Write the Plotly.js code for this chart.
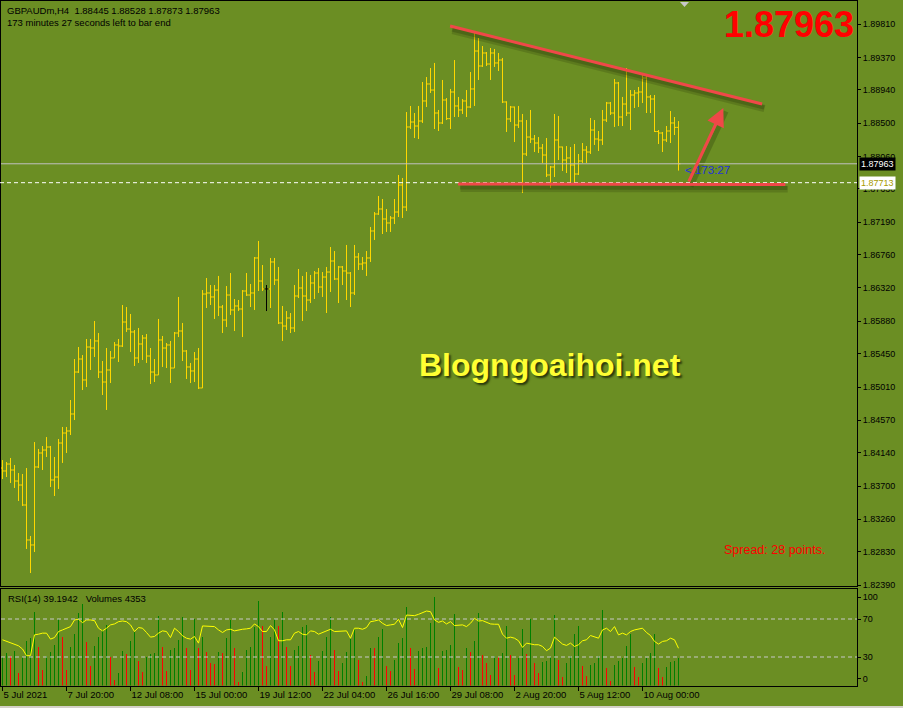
<!DOCTYPE html>
<html><head><meta charset="utf-8">
<script src="https://cdn.plot.ly/plotly-3.0.1.min.js"></script>
<style>html,body{margin:0;padding:0;background:#6B8E23;overflow:hidden}#chart{width:903px;height:708px}</style>
</head><body><div id="chart"></div>
<script>
const symbol = 'GBPAUDm';
const timeframe = 'H4';
const open = [1.83938,1.83899,1.83991,1.83912,1.83766,1.83713,1.83449,1.82986,1.82920,1.83952,
1.84137,1.84176,1.84216,1.83780,1.83819,1.84269,1.84401,1.84428,1.84653,1.85208,
1.85380,1.85103,1.85539,1.85526,1.85619,1.85208,1.85076,1.85235,1.85394,1.85566,
1.85552,1.85870,1.85777,1.85738,1.85394,1.85579,1.85658,1.85420,1.85208,1.85169,
1.85632,1.85526,1.85566,1.85261,1.85724,1.85751,1.85486,1.85275,1.85222,1.85380,
1.84997,1.86240,1.86254,1.86201,1.86293,1.86068,1.85896,1.86227,1.86029,1.86082,
1.86042,1.86280,1.86227,1.86254,1.86717,1.86412,1.86307,1.86307,1.86664,1.86426,
1.85857,1.85817,1.85923,1.85791,1.86214,1.86320,1.86214,1.86161,1.86386,1.86518,
1.86333,1.86465,1.86531,1.86677,1.86439,1.86598,1.86545,1.86518,1.86254,1.86730,
1.86637,1.86651,1.86717,1.87074,1.87299,1.87365,1.87233,1.87180,1.87246,1.87325,
1.87682,1.87391,1.88450,1.88516,1.88463,1.88529,1.88794,1.89019,1.88939,1.88635,
1.88503,1.88807,1.88560,1.88913,1.88728,1.88675,1.88794,1.88714,1.88953,1.89455,
1.89257,1.89429,1.89283,1.89429,1.89297,1.89336,1.88781,1.88556,1.88714,1.88476,
1.88529,1.88093,1.88317,1.88291,1.88238,1.88172,1.88079,1.87815,1.87921,1.88278,
1.88185,1.88013,1.88040,1.87947,1.87828,1.88000,1.88145,1.88119,1.88410,1.88291,
1.88278,1.88542,1.88767,1.88635,1.89032,1.88582,1.88754,1.88635,1.88873,1.88900,
1.88913,1.89098,1.88847,1.88820,1.88390,1.88370,1.88278,1.88397,1.88503,1.88445];
const high = [1.84044,1.84018,1.84071,1.83978,1.83872,1.83859,1.83938,1.83039,1.84282,1.84190,
1.84229,1.84348,1.84230,1.84084,1.84322,1.84481,1.84481,1.84838,1.85380,1.85539,
1.85433,1.85645,1.85645,1.85883,1.85724,1.85354,1.85526,1.85486,1.85605,1.85645,
1.86095,1.86068,1.85976,1.85764,1.85791,1.85698,1.85711,1.85526,1.85380,1.85910,
1.85685,1.85592,1.85619,1.85738,1.86201,1.85857,1.85499,1.85328,1.85473,1.85526,
1.86293,1.86452,1.86359,1.86359,1.86479,1.86095,1.86346,1.86518,1.86174,1.86161,
1.86293,1.86518,1.86373,1.86730,1.86942,1.86624,1.86359,1.86717,1.86717,1.86598,
1.86082,1.86015,1.85989,1.86359,1.86571,1.86479,1.86531,1.86492,1.86545,1.86584,
1.86531,1.86598,1.86862,1.86809,1.86611,1.86611,1.86889,1.86531,1.86889,1.86783,
1.86730,1.86809,1.87127,1.87325,1.87537,1.87497,1.87365,1.87272,1.87497,1.87815,
1.87775,1.88648,1.88728,1.88635,1.88728,1.89045,1.89111,1.89230,1.89297,1.88675,
1.89072,1.88833,1.88953,1.89336,1.88847,1.88820,1.88939,1.89177,1.89707,1.89627,
1.89521,1.89442,1.89495,1.89482,1.89429,1.89363,1.88790,1.88728,1.88720,1.88728,
1.88622,1.88542,1.88675,1.88344,1.88317,1.88225,1.88304,1.87934,1.88622,1.88595,
1.88190,1.88198,1.88185,1.88225,1.88093,1.88238,1.88198,1.88569,1.88542,1.88397,
1.88675,1.88781,1.88781,1.89085,1.89045,1.88847,1.89230,1.88939,1.88939,1.88979,
1.89151,1.89138,1.88873,1.88873,1.88410,1.88384,1.88463,1.88661,1.88582,1.88528];
const low = [1.83793,1.83819,1.83740,1.83674,1.83502,1.83436,1.82867,1.82549,1.82827,1.83938,
1.83912,1.84084,1.83687,1.83568,1.83661,1.84005,1.84137,1.84375,1.84573,1.85195,
1.84970,1.85010,1.85235,1.85407,1.85129,1.84904,1.84706,1.85063,1.85394,1.85341,
1.85539,1.85738,1.85473,1.85288,1.85328,1.85367,1.85328,1.85050,1.85076,1.85169,
1.85275,1.85261,1.85063,1.85261,1.85671,1.85354,1.85116,1.85063,1.85076,1.84984,
1.84997,1.86055,1.86095,1.85910,1.85949,1.85724,1.85804,1.85963,1.85751,1.86015,
1.85671,1.86214,1.86068,1.86029,1.86280,1.86280,1.86015,1.86055,1.86359,1.85843,
1.85619,1.85764,1.85724,1.85738,1.86187,1.85883,1.86015,1.86121,1.86174,1.86254,
1.86201,1.85989,1.86267,1.86426,1.86121,1.86359,1.86161,1.86068,1.86227,1.86558,
1.86558,1.86479,1.86664,1.86955,1.87286,1.87034,1.87061,1.87061,1.87166,1.87259,
1.87246,1.87338,1.88423,1.88304,1.88291,1.88503,1.88714,1.88900,1.88423,1.88397,
1.88490,1.88542,1.88423,1.88582,1.88582,1.88622,1.88582,1.88700,1.88728,1.89072,
1.89244,1.89257,1.89072,1.89244,1.89191,1.88767,1.88384,1.88516,1.88251,1.88437,
1.87577,1.88066,1.88238,1.88119,1.88106,1.87974,1.87788,1.87643,1.87788,1.88013,
1.87868,1.87841,1.87709,1.87709,1.87815,1.87974,1.87974,1.88093,1.88212,1.88132,
1.88212,1.88516,1.88609,1.88450,1.88463,1.88463,1.88595,1.88410,1.88701,1.88714,
1.88767,1.88635,1.88635,1.88384,1.88225,1.88119,1.88251,1.88238,1.88344,1.87873];
const close = [1.83899,1.83991,1.83912,1.83766,1.83713,1.83449,1.82986,1.82920,1.83952,1.84137,
1.84176,1.84216,1.83780,1.83819,1.84269,1.84401,1.84428,1.84653,1.85208,1.85380,
1.85103,1.85539,1.85526,1.85619,1.85208,1.85076,1.85235,1.85394,1.85566,1.85552,
1.85870,1.85777,1.85738,1.85394,1.85579,1.85658,1.85420,1.85208,1.85169,1.85632,
1.85526,1.85566,1.85261,1.85724,1.85751,1.85486,1.85275,1.85222,1.85380,1.84997,
1.86240,1.86254,1.86201,1.86293,1.86068,1.85896,1.86227,1.86029,1.86082,1.86042,
1.86280,1.86227,1.86254,1.86717,1.86412,1.86307,1.86307,1.86664,1.86426,1.85857,
1.85817,1.85923,1.85791,1.86214,1.86320,1.86214,1.86161,1.86386,1.86518,1.86333,
1.86465,1.86531,1.86677,1.86439,1.86598,1.86545,1.86518,1.86254,1.86730,1.86637,
1.86651,1.86717,1.87074,1.87299,1.87365,1.87233,1.87180,1.87246,1.87325,1.87682,
1.87391,1.88450,1.88516,1.88463,1.88529,1.88794,1.89019,1.88939,1.88635,1.88503,
1.88807,1.88560,1.88913,1.88728,1.88675,1.88794,1.88714,1.88953,1.89455,1.89257,
1.89429,1.89283,1.89429,1.89297,1.89336,1.88781,1.88556,1.88714,1.88476,1.88529,
1.88093,1.88317,1.88291,1.88238,1.88172,1.88079,1.87815,1.87921,1.88278,1.88185,
1.88013,1.88040,1.87947,1.87828,1.88000,1.88145,1.88119,1.88410,1.88291,1.88278,
1.88542,1.88767,1.88635,1.89032,1.88582,1.88754,1.88635,1.88873,1.88900,1.88913,
1.89098,1.88847,1.88820,1.88390,1.88370,1.88278,1.88397,1.88503,1.88445,1.87963];
const rsi = [48.1,46.4,44.6,42.9,41.8,38.4,31.4,31.4,53.3,54.0,
55.1,55.1,48.8,50.5,56.8,58.5,60.3,62.0,69.0,69.7,
66.2,69.0,69.0,68.3,60.3,57.5,60.3,63.8,64.8,67.2,
67.9,67.2,63.8,56.8,61.0,60.3,55.8,50.9,51.6,55.1,
57.5,56.8,50.5,60.3,56.8,52.3,49.8,48.8,51.6,44.6,
62.7,62.7,62.7,62.0,58.5,55.8,58.5,59.2,57.5,58.5,
59.2,59.6,60.3,64.8,62.0,56.8,56.8,63.1,58.5,47.1,
47.1,48.1,48.1,55.1,56.8,54.0,53.3,57.5,56.8,54.0,
55.8,56.8,59.2,56.8,56.8,57.5,57.5,49.8,60.3,60.3,
59.2,61.0,67.2,67.9,69.0,65.5,63.1,63.8,64.5,69.7,
61.0,74.2,74.2,73.5,74.9,77.0,78.4,77.7,69.0,66.5,
67.9,64.8,67.2,63.1,63.1,63.8,62.0,65.5,70.7,67.9,
68.3,66.5,64.8,64.5,64.5,54.0,49.8,50.9,49.8,47.1,
40.1,44.6,43.6,42.9,42.9,41.1,36.6,39.4,50.9,47.1,
43.6,42.2,44.6,41.1,42.9,47.1,48.1,52.6,51.6,49.8,
58.5,60.3,56.8,62.0,53.3,55.1,53.3,56.8,58.5,59.2,
60.3,55.8,52.6,46.4,43.6,46.4,47.1,49.8,48.1,39.1942];
const volume = [4454,5083,4716,5502,1991,4454,7074,7441,11528,6131,
2515,4716,5345,6393,10480,7598,2515,6026,8122,11371,
12838,6917,3144,6288,7598,8803,9537,4559,943,1991,
5502,4978,7074,8384,3930,2201,4559,4978,5135,11004,
6026,2358,5659,5869,7179,10847,5921,2515,10480,5869,
7598,5240,3511,3406,5240,5135,7441,10323,5869,629,
2201,5659,6026,9170,13362,9432,3039,7598,10480,9432,
11528,6131,3144,5659,6288,9170,9589,4873,2201,3930,
5502,7703,10847,5607,2358,3563,5345,7336,9013,4087,
629,1572,5921,5869,7598,8908,3039,2358,4087,6655,
7441,12419,5869,2620,5502,5869,6026,9799,13991,2725,
5502,5600,6445,11266,2987,2515,5974,5345,7074,11371,
4873,3616,1677,4664,4454,5188,9432,4873,1729,4297,
8908,4978,10480,3563,1991,3773,3930,4454,11109,4087,
1415,3563,4716,8122,9432,3144,1572,3301,3563,4716,
11947,2830,786,3301,3930,4297,6288,8122,2987,1415,
3563,4297,5135,8122,2830,1415,2987,3773,3930,4353];
const xTickBars = [0,16,32,48,64,80,96,112,128,144,160];
const xTickLabels = ['5 Jul 2021','7 Jul 20:00','12 Jul 08:00','15 Jul 00:00','19 Jul 12:00','22 Jul 04:00','26 Jul 16:00','29 Jul 08:00','2 Aug 20:00','5 Aug 12:00','10 Aug 00:00'];
const priceTicks = [1.89810,1.89370,1.88940,1.88500,1.88060,1.87630,1.87190,1.86760,1.86320,1.85880,1.85450,1.85010,1.84570,1.84140,1.83700,1.83260,1.82830,1.82390];
const rsiTickVals = [93,70,30,7];
const rsiTickText = ['100','70','30','0'];
const rsiLevels = [70,30];
const linePrice = 1.87713;
const spreadPoints = 28;
const timeLeft = {min:173, sec:27};
const trendLines = [
  {x0:111.9, y0:1.89786, x1:189.9, y1:1.88754},
  {x0:113.9, y0:1.87696, x1:195.7, y1:1.87689}
];
const arrowLine = {x0:171.4, y0:1.87709, x1:180.2, y1:1.88701};

const W = 903, H = 708;
const fx = p => p / W;
const fy = p => 1 - p / H;
const n = close.length - 1;
const idx = close.map((_, i) => i);
const bid = close[n];
const f5 = v => v.toFixed(5);
const FONT = 'Liberation Sans, Arial, sans-serif';
const BAR = '#FFD700';

const normal = idx.filter(i => open[i] !== close[i]);
const doji = idx.filter(i => open[i] === close[i]);
const pick = (arr, ids) => ids.map(i => arr[i]);

const volColors = volume.map((v, i) => (i > 0 && v <= volume[i - 1]) ? '#FF0000' : '#008000');

const traces = [
  {type:'ohlc', x:normal, open:pick(open,normal), high:pick(high,normal), low:pick(low,normal), close:pick(close,normal),
   increasing:{line:{color:BAR, width:1}}, decreasing:{line:{color:BAR, width:1}}, tickwidth:0.5, hoverinfo:'skip', xaxis:'x', yaxis:'y'},
  {type:'ohlc', x:doji, open:pick(open,doji), high:pick(high,doji), low:pick(low,doji), close:pick(close,doji),
   increasing:{line:{color:'#000000', width:1}}, decreasing:{line:{color:'#000000', width:1}}, tickwidth:0.5, hoverinfo:'skip', xaxis:'x', yaxis:'y'},
  {type:'bar', x:idx, y:volume, marker:{color:volColors, line:{width:0}}, width:0.4, xaxis:'x2', yaxis:'y2', hoverinfo:'skip'},
  {type:'scatter', mode:'lines', x:idx, y:rsi, line:{color:'#FFFF00', width:1}, xaxis:'x2', yaxis:'y3', hoverinfo:'skip'}
];

const xDom = [fx(1), fx(857)];
const xRange = [-0.375, 213.625];
const pxPrice = 0.0001323, topPrice = 1.9013;

const shapes = [];
trendLines.forEach(t => {
  shapes.push({type:'line', xref:'x', yref:'y', x0:t.x0+0.6, y0:t.y0-pxPrice*4.5, x1:t.x1+0.6, y1:t.y1-pxPrice*4.5, line:{color:'rgba(40,55,10,0.22)', width:7}});
  shapes.push({type:'line', xref:'x', yref:'y', x0:t.x0+0.5, y0:t.y0-pxPrice*3.5, x1:t.x1+0.5, y1:t.y1-pxPrice*3.5, line:{color:'rgba(40,55,10,0.3)', width:4}});
});
shapes.push({type:'line', xref:'x', yref:'y', x0:arrowLine.x0+0.7, y0:arrowLine.y0-pxPrice*3.5, x1:arrowLine.x1+0.7, y1:arrowLine.y1-pxPrice*3.5, line:{color:'rgba(40,55,10,0.3)', width:5}});
shapes.push({type:'line', xref:'paper', yref:'y', x0:xDom[0], x1:xDom[1], y0:bid, y1:bid, line:{color:'#C0C0C0', width:1}});
shapes.push({type:'line', xref:'paper', yref:'y', x0:0, x1:xDom[1], y0:linePrice, y1:linePrice, line:{color:'#FFFFFF', width:1, dash:'4px,3px'}});
trendLines.forEach(t => {
  shapes.push({type:'line', xref:'x', yref:'y', x0:t.x0, y0:t.y0, x1:t.x1, y1:t.y1, line:{color:'#F04848', width:3}});
});
rsiLevels.forEach(l => {
  shapes.push({type:'line', xref:'paper', yref:'y3', x0:xDom[0], x1:xDom[1], y0:l, y1:l, line:{color:'#C8C8C8', width:1, dash:'4px,3px'}});
});
shapes.push({type:'path', xref:'paper', yref:'paper', path:`M ${fx(680)} ${fy(2)} L ${fx(689)} ${fy(2)} L ${fx(684.5)} ${fy(7)} Z`, fillcolor:'#C8C8C8', line:{width:0}});
shapes.push({type:'rect', xref:'paper', yref:'paper', x0:0, x1:1, y0:0, y1:fy(706), fillcolor:'#D4D0C8', line:{width:0}});

const annotations = [
  {xref:'paper', yref:'paper', x:fx(5), y:fy(10), xanchor:'left', yanchor:'middle', showarrow:false,
   text:`${symbol},${timeframe}\u00A0\u00A0${f5(open[n])} ${f5(high[n])} ${f5(low[n])} ${f5(close[n])}`, font:{family:FONT, size:9.5, color:'#000000'}},
  {xref:'paper', yref:'paper', x:fx(5), y:fy(23), xanchor:'left', yanchor:'middle', showarrow:false,
   text:`${timeLeft.min} minutes ${timeLeft.sec} seconds left to bar end`, font:{family:FONT, size:9.5, color:'#000000'}},
  {xref:'paper', yref:'paper', x:fx(856), y:fy(25), xanchor:'right', yanchor:'middle', showarrow:false,
   text:`<b>${f5(bid)}</b>`, font:{family:FONT, size:36, color:'#FF0000'}},
  {xref:'paper', yref:'paper', x:fx(550), y:fy(365), xanchor:'center', yanchor:'middle', showarrow:false,
   text:'<b>Blogngoaihoi.net</b>', font:{family:FONT, size:32, color:'#FFFF33', shadow:'2px 2px 2px rgba(25,35,5,0.8)'}},
  {xref:'paper', yref:'paper', x:fx(722), y:fy(550), xanchor:'left', yanchor:'middle', showarrow:false,
   text:`Spread: ${spreadPoints} points.`, font:{family:FONT, size:12.5, color:'#FF0000'}},
  {xref:'x', yref:'y', x:n+1.1, y:bid, xanchor:'left', yanchor:'middle', yshift:-6, showarrow:false,
   text:`< ${timeLeft.min}:${timeLeft.sec}`, font:{family:FONT, size:11.5, color:'#2233DD'}},
  {xref:'paper', yref:'paper', x:fx(6), y:fy(598), xanchor:'left', yanchor:'middle', showarrow:false,
   text:`RSI(14) ${rsi[n].toFixed(4)}\u00A0\u00A0\u00A0Volumes ${volume[n]}`, font:{family:FONT, size:9.5, color:'#000000'}},
  {xref:'paper', yref:'y', x:fx(858.5), y:bid, xanchor:'left', yanchor:'middle', showarrow:false, bgcolor:'#000000', borderpad:1,
   text:f5(bid), font:{family:FONT, size:9, color:'#FFFFFF'}},
  {xref:'paper', yref:'y', x:fx(858.5), y:linePrice, xanchor:'left', yanchor:'middle', showarrow:false, bgcolor:'#FFFFFF', borderpad:1,
   text:f5(linePrice), font:{family:FONT, size:9, color:'#A89A00'}},
  {xref:'x', yref:'y', axref:'x', ayref:'y', x:arrowLine.x1, y:arrowLine.y1, ax:arrowLine.x0, ay:arrowLine.y0, text:'', showarrow:true,
   arrowhead:2, arrowsize:1.2, arrowwidth:3, arrowcolor:'#F04848'}
];

const layout = {
  width:W, height:H, margin:{l:0, r:0, t:0, b:0}, paper_bgcolor:'#6B8E23', plot_bgcolor:'#6B8E23',
  showlegend:false, dragmode:false, bargap:0,
  xaxis:{domain:xDom, range:xRange, anchor:'y', showgrid:false, zeroline:false, showticklabels:false, ticks:'',
         showline:true, mirror:true, linecolor:'#000000', linewidth:1, rangeslider:{visible:false}, fixedrange:true},
  yaxis:{domain:[fy(586), fy(1)], range:[topPrice - pxPrice*586, topPrice - pxPrice*1], anchor:'x', side:'right',
         showgrid:false, zeroline:false, tickvals:priceTicks, ticktext:priceTicks.map(f5), ticks:'outside', ticklen:3, tickcolor:'#000000',
         showline:true, mirror:true, linecolor:'#000000', linewidth:1, tickfont:{family:FONT, size:9, color:'#000000'}, fixedrange:true},
  xaxis2:{domain:xDom, range:xRange, anchor:'y2', showgrid:false, zeroline:false, tickvals:xTickBars, ticktext:xTickLabels,
          ticks:'outside', ticklen:4, tickcolor:'#000000', ticklabelposition:'outside right', tickangle:0,
          showline:true, mirror:true, linecolor:'#000000', linewidth:1, tickfont:{family:FONT, size:9.5, color:'#000000'}, fixedrange:true},
  yaxis2:{domain:[fy(685.5), fy(588.5)], range:[0, 15250], anchor:'x2', visible:false, showgrid:false, zeroline:false, fixedrange:true},
  yaxis3:{overlaying:'y2', anchor:'x2', range:[0, 102.1], side:'right', showgrid:false, zeroline:false,
          tickvals:rsiTickVals, ticktext:rsiTickText, ticks:'outside', ticklen:3, tickcolor:'#000000',
          showline:true, mirror:true, linecolor:'#000000', linewidth:1, tickfont:{family:FONT, size:9, color:'#000000'}, fixedrange:true},
  shapes:shapes, annotations:annotations
};

Plotly.newPlot('chart', traces, layout, {displayModeBar:false, staticPlot:true});
</script></body></html>
